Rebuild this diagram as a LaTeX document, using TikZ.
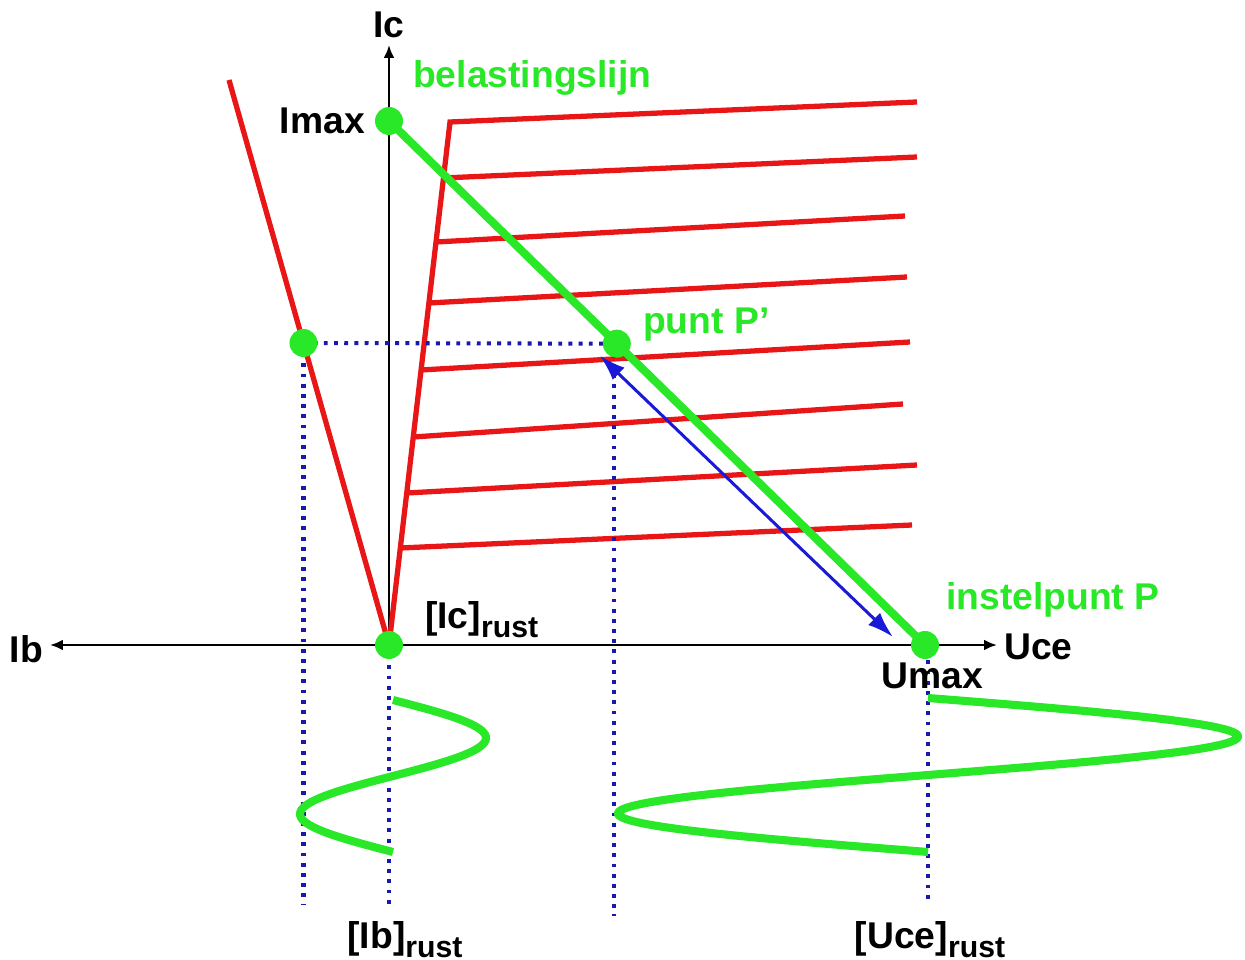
\documentclass[tikz,border=0pt]{standalone}
\usepackage{fontspec}
\setmainfont{Liberation Sans}
\usetikzlibrary{arrows.meta,calc}
\definecolor{curvered}{RGB}{232,22,22}
\definecolor{loadgreen}{RGB}{40,232,40}
\definecolor{dotblue}{RGB}{25,25,175}
\definecolor{arrowblue}{RGB}{25,25,215}
\newcommand{\rustlab}[1]{#1\raisebox{-0.45ex}{\fontsize{8.6pt}{9pt}\selectfont rust}}

\begin{document}
\begin{tikzpicture}[>=Latex, font=\fontsize{10.6pt}{12pt}\selectfont\bfseries,
  axis/.style={-{Latex[length=1.3mm,width=1.1mm]},line width=0.85pt},
  redline/.style={curvered,line width=1.5pt},
  loadline/.style={loadgreen,line width=2.3pt},
  dotline/.style={dotblue,line width=1.15pt,dash pattern=on 1.1pt off 1.8pt},
  gdot/.style={circle,fill=loadgreen,minimum size=0.28cm,inner sep=0pt}]
  \useasboundingbox (-3.89,-3.14) rectangle (8.56,6.45);
  % key points
  \coordinate (o) at (0,0);
  \coordinate (imax) at (0,5.24);
  \coordinate (umax) at (5.36,0);
  \coordinate (redtop) at (-1.60,5.65);
  \coordinate (pp) at ($(imax)!0.425!(umax)$);
  \coordinate (lp) at ($(o)!{3.02/5.65}!(redtop)$);
  \coordinate (ictip) at (0,6.0);
  \coordinate (ucetip) at (6.08,0);
  \coordinate (ibtip) at (-3.39,0);
  % axes
  \draw[axis] (o) -- (ictip);
  \draw[axis] (o) -- (ucetip);
  \draw[axis] (o) -- (ibtip);
  \node (iclab) at (0,6.20) {Ic};
  \node[anchor=west,inner sep=1pt] (ucelab) at (6.11,-0.02) {Uce};
  \node[anchor=east,inner sep=1pt] (iblab) at (-3.42,-0.04) {Ib};
  % characteristics
  \draw[redline] (o) -- (redtop);
  \draw[redline] (o) -- (0.61,5.23) -- (5.28,5.43);
  \foreach \yl/\xr/\yr in {4.67/5.28/4.88, 4.03/5.16/4.29, 3.42/5.18/3.68,
      2.75/5.21/3.03, 2.08/5.14/2.41, 1.52/5.28/1.80, 0.97/5.23/1.20} {
    \draw[redline] ({0.1166*\yl},\yl) -- (\xr,\yr);
  }
  % projections
  \draw[dotline] (lp) -- (pp);
  \draw[dotline] (lp) -- (lp |- 0,-2.60);
  \draw[dotline] (o) -- (0,-2.65);
  \draw[dotline] ($(pp)+(-0.03,0)$) -- ($(pp)+(-0.03,-5.72)$);
  \draw[dotline] ($(umax)+(0.03,0.05)$) -- ($(umax)+(0.03,-2.55)$);
  % load line
  \draw[loadline] (imax) -- (umax);
  \draw[<->,arrowblue,line width=0.85pt,>={Latex[length=2.6mm,width=1.7mm]}]
    ($(pp)+(-0.17,-0.12)$) -- ($(umax)+(-0.32,0.08)$);
  % signals
  \draw[loadline] plot[domain=0:360,samples=80] ({0.04+0.93*sin(\x)},{-0.55-1.52*\x/360});
  \draw[loadline] plot[domain=0:360,samples=100] ({5.39+3.10*sin(\x)},{-0.53-1.54*\x/360});
  % points
  \node[gdot] (imaxdot) at (imax) {};
  \node[gdot] (umaxdot) at (umax) {};
  \node[gdot] (odot) at (o) {};
  \node[gdot] (ppdot) at (pp) {};
  \node[gdot] (lpdot) at (lp) {};
  % labels
  \node[anchor=east,inner sep=1pt] (imaxlab) at (-0.20,5.24) {Imax};
  \node (umaxlab) at (5.43,-0.31) {Umax};
  \node[anchor=west,inner sep=1pt,loadgreen] (loadlab) at (0.20,5.67) {belastingslijn};
  \node[anchor=west,inner sep=1pt,loadgreen] (pplab) at (2.50,3.20) {punt P'};
  \node[anchor=west,inner sep=1pt,loadgreen] (plab) at (5.53,0.45) {instelpunt P};
  \node[anchor=west,inner sep=1pt] (icrust) at (0.32,0.25) {\rustlab{[Ic]}};
  \node (ibrust) at (0.16,-2.95) {\rustlab{[Ib]}};
  \node (ucerust) at (5.41,-2.95) {\rustlab{[Uce]}};
\end{tikzpicture}
\end{document}
